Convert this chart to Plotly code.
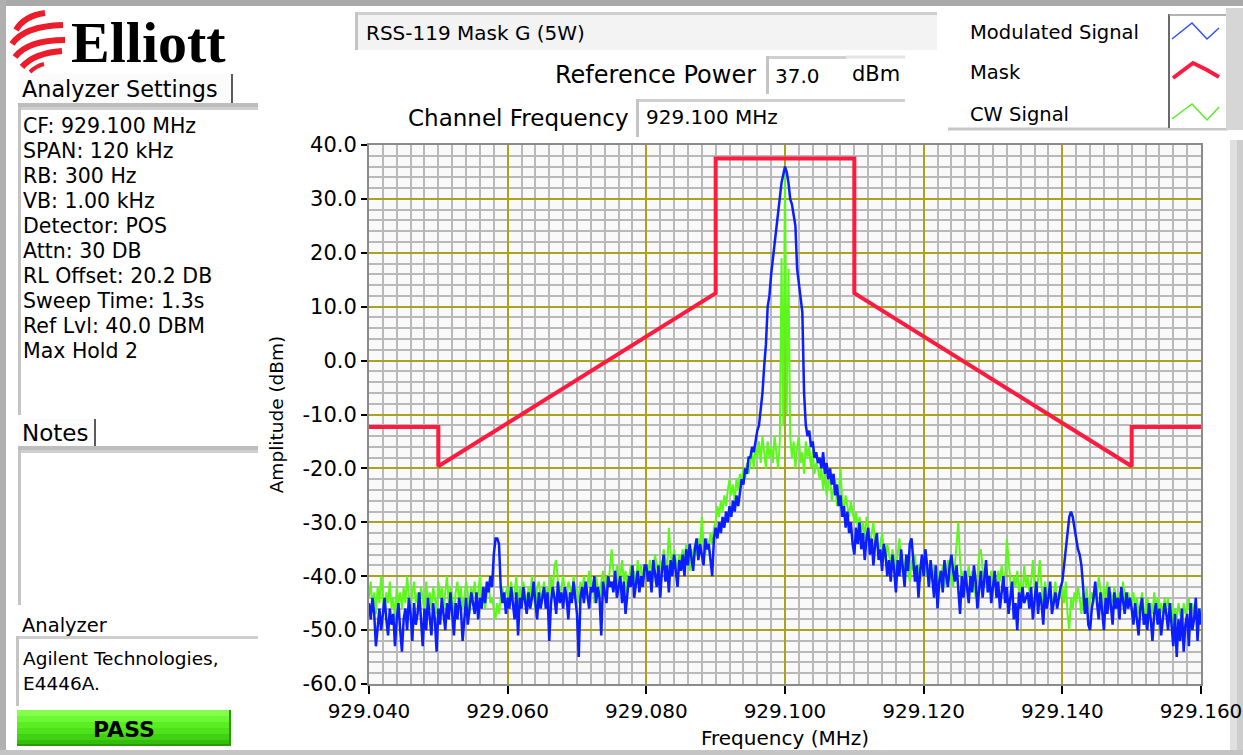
import numpy as np
import plotly.graph_objects as go

# ---------------- data ----------------
f_start, f_stop, n_pts = 929.040, 929.160, 481
freq_mhz = np.linspace(f_start, f_stop, n_pts)

modulated_dbm = [
    -45, -48, -44, -47, -53, -49, -46, -50, -47, -44, -48, -51, -46, -49, -47, -53, -48, -45, -50, -54,
    -48, -46, -50, -44, -47, -52, -45, -49, -47, -43, -48, -53, -46, -50, -44, -47, -51, -45, -48, -54,
    -46, -49, -44, -47, -50, -45, -48, -43, -47, -51, -45, -48, -44, -46, -52, -47, -44, -49, -46, -43,
    -45, -47, -43, -48, -44, -46, -42, -45, -41, -43, -40, -42, -36, -33, -33, -34, -42, -45, -43, -47,
    -44, -46, -42, -45, -48, -43, -51, -44, -46, -42, -45, -47, -43, -46, -44, -41, -45, -48, -43, -46,
    -44, -42, -46, -43, -52, -45, -42, -44, -47, -41, -45, -43, -46, -42, -44, -48, -43, -45, -41, -44,
    -47, -55, -44, -42, -45, -41, -44, -46, -42, -43, -40, -45, -42, -44, -51, -41, -43, -45, -40, -42,
    -41, -43, -39, -44, -42, -40, -45, -41, -47, -43, -40, -42, -38, -44, -41, -39, -43, -40, -42, -38,
    -38, -41, -39, -43, -37, -40, -42, -38, -44, -39, -36, -41, -38, -43, -37, -40, -36, -39, -42, -37,
    -39, -36, -40, -35, -38, -34, -37, -39, -35, -33, -37, -34, -36, -38, -33, -35, -34, -37, -40, -33,
    -31, -33, -30, -32, -29, -31, -28, -30, -27, -29, -26, -28, -25, -27, -24, -22, -23, -20, -21, -18,
    -18, -16, -17, -15, -13, -12, -9, -6, -1, 3, 10, 12, 16, 19, 22, 25, 27, 30, 33, 34.5,
    36, 35, 33, 30, 29, 27, 25, 17, 14, 11, 9, -6, -12, -14, -13, -16, -15, -18, -17, -19,
    -18, -20, -17, -21, -19, -22, -20, -23, -21, -25, -23, -27, -25, -29, -27, -31, -28, -32, -30, -34,
    -36, -31, -34, -30, -35, -32, -37, -33, -31, -36, -33, -38, -34, -32, -37, -35, -39, -34, -36, -40,
    -37, -41, -36, -39, -43, -37, -40, -35, -38, -42, -36, -39, -34, -33, -37, -41, -38, -44, -39, -36,
    -40, -35, -38, -42, -37, -40, -44, -38, -46, -41, -39, -43, -37, -40, -42, -38, -36, -39, -41, -38,
    -43, -47, -40, -44, -39, -42, -45, -40, -43, -38, -41, -46, -42, -39, -44, -41, -37, -43, -40, -45,
    -42, -39, -44, -41, -46, -43, -40, -45, -42, -47, -44, -41, -48, -45, -50, -43, -46, -42, -45, -44,
    -43, -46, -42, -48, -44, -41, -47, -43, -45, -49, -42, -46, -44, -41, -47, -45, -43, -46, -44, -42,
    -41, -38, -34, -31, -29, -28, -29, -31, -33, -35, -36, -38, -42, -47, -44, -49, -50, -46, -44, -41,
    -45, -48, -43, -46, -50, -44, -47, -42, -45, -49, -43, -46, -44, -48, -42, -45, -47, -43, -46, -44,
    -46, -49, -45, -48, -51, -46, -44, -49, -47, -50, -45, -48, -52, -47, -45, -49, -46, -51, -48, -45,
    -47, -50, -45, -49, -53, -47, -55, -48, -52, -46, -54, -49, -47, -53, -45, -50, -48, -44, -52, -46,
    -49,
]

cw_dbm = [
    -44, -41, -46, -43, -47, -42, -45, -40, -44, -47, -43, -45, -41, -46, -44, -48, -42, -45, -43, -46,
    -42, -45, -40, -44, -47, -43, -41, -45, -43, -46, -42, -44, -47, -41, -45, -43, -46, -42, -44, -47,
    -41, -44, -42, -46, -43, -40, -45, -42, -44, -47, -43, -41, -45, -42, -46, -44, -41, -43, -47, -42,
    -44, -41, -45, -43, -40, -44, -42, -46, -43, -41, -45, -44, -46, -48, -45, -47, -44, -42, -45, -43,
    -42, -45, -41, -44, -43, -40, -46, -42, -44, -41, -43, -45, -42, -44, -40, -43, -46, -42, -41, -44,
    -43, -41, -45, -42, -44, -40, -43, -38, -37, -41, -44, -42, -40, -43, -45, -41, -42, -44, -40, -43,
    -42, -45, -41, -43, -40, -44, -42, -39, -43, -41, -45, -40, -42, -44, -41, -39, -43, -40, -42, -38,
    -35, -39, -41, -38, -42, -40, -37, -41, -39, -43, -40, -38, -41, -39, -42, -37, -40, -38, -41, -39,
    -38, -40, -37, -39, -41, -36, -38, -40, -37, -39, -35, -37, -39, -31, -36, -38, -35, -37, -39, -36,
    -37, -35, -38, -34, -36, -39, -35, -37, -34, -36, -33, -35, -29, -34, -36, -33, -35, -32, -34, -31,
    -30, -27, -29, -26, -28, -25, -27, -24, -22, -25, -23, -26, -22, -24, -21, -23, -20, -22, -19, -21,
    -19, -17, -20, -16, -18, -15, -19, -14, -17, -20, -15, -18, -16, -19, -14, -17, -20, -15, 19, -12,
    35.5, -10, 17, -14, -18, -15, -20, -16, -14, -19, -17, -21, -15, -18, -16, -20, -17, -21, -19, -20,
    -22, -20, -24, -21, -25, -23, -21, -26, -24, -22, -27, -25, -20, -26, -28, -25, -27, -29, -26, -28,
    -30, -28, -31, -29, -32, -30, -33, -29, -31, -34, -32, -30, -35, -33, -36, -34, -32, -35, -37, -34,
    -36, -38, -35, -37, -39, -36, -33, -37, -40, -38, -36, -39, -41, -37, -39, -36, -40, -38, -41, -39,
    -37, -40, -38, -42, -39, -41, -38, -40, -43, -39, -41, -38, -42, -40, -37, -41, -39, -42, -38, -34,
    -30, -37, -41, -39, -43, -40, -38, -42, -39, -41, -44, -40, -36, -35, -39, -42, -40, -43, -41, -39,
    -42, -40, -43, -39, -41, -38, -42, -40, -33, -38, -41, -44, -40, -42, -39, -43, -41, -44, -38, -42,
    -40, -43, -41, -37, -42, -44, -40, -37, -42, -45, -41, -43, -44, -42, -46, -43, -41, -45, -43, -44,
    -42, -45, -41, -47, -50, -44, -46, -43, -45, -42, -44, -47, -43, -45, -42, -46, -44, -43, -45, -42,
    -44, -40, -43, -45, -42, -44, -41, -46, -43, -45, -42, -44, -46, -43, -45, -41, -44, -46, -43, -45,
    -45, -43, -46, -44, -47, -45, -43, -46, -48, -44, -46, -45, -47, -43, -46, -44, -48, -45, -47, -44,
    -46, -44, -47, -45, -50, -46, -48, -45, -47, -49, -45, -47, -46, -44, -48, -45, -47, -45, -49, -46,
    -47,
]

mask_freq = [929.040, 929.050, 929.050, 929.090, 929.090, 929.110, 929.110, 929.150, 929.150, 929.160]
mask_dbm = [-12.3, -12.3, -19.6, 12.5, 37.5, 37.5, 12.5, -19.6, -12.3, -12.3]

x_tick_vals = [929.040, 929.060, 929.080, 929.100, 929.120, 929.140, 929.160]
x_tick_text = ["929.040", "929.060", "929.080", "929.100", "929.120", "929.140", "929.160"]
y_tick_vals = [-60, -50, -40, -30, -20, -10, 0, 10, 20, 30, 40]
y_tick_text = ["-60.0", "-50.0", "-40.0", "-30.0", "-20.0", "-10.0", "0.0", "10.0", "20.0", "30.0", "40.0"]

settings_lines = ["CF: 929.100 MHz", "SPAN: 120 kHz", "RB: 300 Hz", "VB: 1.00 kHz", "Detector: POS",
                  "Attn: 30 DB", "RL Offset: 20.2 DB", "Sweep Time: 1.3s", "Ref Lvl: 40.0 DBM", "Max Hold 2"]
legend_names = ["Modulated Signal", "Mask", "CW Signal"]

# ---------------- geometry helpers (pixel -> paper) ----------------
W, H = 1243, 755
L, R, T, B = 369, 1201, 145, 684
FONT = "DejaVu Sans"


def px(x):
    return (x - L) / (R - L)


def py(y):
    return (B - y) / (B - T)


shapes = []
annotations = []


def rect(x0, y0, x1, y1, fill, lc=None, lw=0):
    shapes.append(dict(type="rect", xref="paper", yref="paper", x0=px(x0), x1=px(x1),
                       y0=py(y1), y1=py(y0), fillcolor=fill,
                       line=dict(color=lc or fill, width=lw), layer="below"))


def seg(x0, y0, x1, y1, color, width):
    shapes.append(dict(type="line", xref="paper", yref="paper", x0=px(x0), x1=px(x1),
                       y0=py(y0), y1=py(y1), line=dict(color=color, width=width), layer="below"))


def poly(points, color, width, curve=False):
    if curve:
        (a, b), (c, d), (e, f) = points
        p = f"M {px(a)},{py(b)} Q {px(c)},{py(d)} {px(e)},{py(f)}"
    else:
        p = "M " + " L ".join(f"{px(a)},{py(b)}" for a, b in points)
    shapes.append(dict(type="path", xref="paper", yref="paper", path=p,
                       line=dict(color=color, width=width), layer="above"))


def text(s, x, y, size, anchor="left", bold=False, family=FONT, color="black"):
    annotations.append(dict(text=f"<b>{s}</b>" if bold else s, x=px(x), y=py(y),
                            xref="paper", yref="paper", showarrow=False,
                            xanchor=anchor, yanchor="middle", borderpad=0,
                            font=dict(family=family, size=size, color=color)))


def sunken(x0, y0, x1, y1, fill):
    rect(x0, y0, x1, y1, fill)
    seg(x0, y0 + 1.5, x1, y0 + 1.5, "#cfcfcf", 3)
    seg(x0 + 1.5, y0, x0 + 1.5, y1, "#c4c4c4", 3)


# ---------------- outer frame ----------------
rect(0, 0, W, 6, "#a9a9a9")
rect(0, 0, 6, H, "#b0b0b0")
rect(1230, 140, W, H, "#e0e0e0")
rect(1237, 140, W, H, "#cdcdcd")
rect(0, 750, W, H, "#c4c4c4")

# ---------------- logo ----------------
RED_LOGO = "#ec1c2a"
poly([(16, 30), (24, 16), (45, 13)], RED_LOGO, 6, curve=True)
poly([(12, 44), (24, 26), (63, 25)], RED_LOGO, 6, curve=True)
poly([(15, 57), (28, 40), (65, 40)], RED_LOGO, 6, curve=True)
poly([(22, 67), (34, 53), (62, 51)], RED_LOGO, 6, curve=True)
poly([(30, 72), (36, 66), (44, 64)], RED_LOGO, 4, curve=True)
text("Elliott", 70, 42, 58, bold=True, family="Liberation Serif")

# ---------------- left panel ----------------
rect(18, 74, 233, 103, "#fbfbfb")
seg(232, 74, 232, 103, "#5a5a5a", 2)
seg(18, 105, 258, 105, "#bdbdbd", 4)
text("Analyzer Settings", 21, 89, 22.3)
sunken(18, 107, 258, 415, "#ffffff")
for i, line in enumerate(settings_lines):
    text(line, 22, 126 + 25.0 * i, 20.5)

rect(18, 419, 95, 446, "#fbfbfb")
seg(95, 419, 95, 446, "#5a5a5a", 2)
seg(18, 448, 258, 448, "#bdbdbd", 4)
text("Notes", 21, 433, 23)
sunken(18, 450, 258, 605, "#ffffff")

text("Analyzer", 21, 625, 19.5)
sunken(16, 636, 258, 706, "#ffffff")
text("Agilent Technologies,", 22, 658, 18.5)
text("E4446A.", 22, 683, 18.5)

# PASS indicator (stacked bands for a gradient look)
band_cols = ["#84ff4c", "#6cf835", "#5aee22", "#4ee21a", "#40d212", "#34bd0a"]
for i, c in enumerate(band_cols):
    rect(17, 710 + i * 6, 231, 716 + i * 6, c)
seg(17, 745, 231, 745, "#2a9a00", 2)
seg(230, 710, 230, 746, "#2a9a00", 2)
text("PASS", 124, 729, 22, anchor="center", bold=True)

# ---------------- top header ----------------
sunken(355, 12, 937, 50, "#f3f3f3")
text("RSS-119 Mask G (5W)", 365, 33, 20)
text("Reference Power", 757, 75, 24, anchor="right")
sunken(766, 56, 846, 94, "#ffffff")
seg(846, 57, 905, 57, "#e3e3e3", 3)
text("37.0", 774, 76, 20)
text("dBm", 851, 74, 21)
text("Channel Frequency", 630, 118, 23, anchor="right")
sunken(636, 99, 905, 137, "#ffffff")
text("929.100 MHz", 645, 117, 20)

# ---------------- legend panel ----------------
seg(948, 129, 1228, 129, "#c6c6c6", 3)
rect(1169, 14, 1226, 128, "#ffffff")
seg(1169, 14, 1169, 128, "#6a6a6a", 2)
seg(1169, 15, 1226, 15, "#9a9a9a", 1.5)
rect(1226, 8, W, 130, "#d6d6d6")
leg_y = [32, 73, 114]
for name, yy in zip(legend_names, leg_y):
    text(name, 969, yy, 19.5)
poly([(1172, 39), (1192, 23), (1207, 39), (1219, 28)], "#3050ff", 1.5)
poly([(1173, 78), (1193, 63), (1207, 70), (1219, 77)], "#ff1a40", 4)
poly([(1172, 119), (1192, 104), (1207, 120), (1219, 107)], "#55ee22", 1.5)

# ---------------- traces ----------------
fig = go.Figure()
fig.add_trace(go.Scatter(x=freq_mhz, y=cw_dbm, mode="lines", name=legend_names[2],
                         line=dict(color="#5cf81c", width=2)))
fig.add_trace(go.Scatter(x=freq_mhz, y=modulated_dbm, mode="lines", name=legend_names[0],
                         line=dict(color="#0a1eff", width=2.5)))
fig.add_trace(go.Scatter(x=mask_freq, y=mask_dbm, mode="lines", name=legend_names[1],
                         line=dict(color="#ff1a40", width=4)))

GRID_MINOR = "#b9b9b9"
GRID_MAJOR = "#aaa31e"

fig.update_layout(
    width=W, height=H, autosize=False,
    margin=dict(l=L, r=W - R, t=T, b=H - B, autoexpand=False),
    paper_bgcolor="#ffffff", plot_bgcolor="#f9f9f9",
    showlegend=False,
    font=dict(family=FONT, color="black"),
    shapes=shapes, annotations=annotations,
    xaxis=dict(
        range=[f_start, f_stop], tickmode="array", tickvals=x_tick_vals, ticktext=x_tick_text,
        automargin=False,
        showgrid=True, gridcolor=GRID_MAJOR, gridwidth=2, zeroline=False,
        ticks="outside", ticklen=8, tickwidth=1.5, tickcolor="black",
        tickfont=dict(size=20), showline=True, linecolor="#8a8a8a", linewidth=2, mirror=True,
        minor=dict(tickmode="linear", tick0=f_start, dtick=0.002, showgrid=True,
                   gridcolor=GRID_MINOR, gridwidth=2, ticks=""),
        title=dict(text="Frequency (MHz)", font=dict(size=20), standoff=9),
    ),
    yaxis=dict(
        range=[-60, 40], tickmode="array", tickvals=y_tick_vals, ticktext=y_tick_text,
        automargin=False,
        showgrid=True, gridcolor=GRID_MAJOR, gridwidth=2, zeroline=False,
        ticks="outside", ticklen=6, tickwidth=2, tickcolor="black",
        tickfont=dict(size=21), showline=True, linecolor="#8a8a8a", linewidth=2, mirror=True,
        minor=dict(tickmode="linear", tick0=-60, dtick=2, showgrid=True,
                   gridcolor=GRID_MINOR, gridwidth=2, ticks=""),
        title=dict(text="Amplitude (dBm)", font=dict(size=18.5), standoff=14),
    ),
)

fig.write_html(
    "out.html",
    config={"displayModeBar": False, "responsive": False},
    post_script=("document.body.style.margin='0px';"
                 "document.body.style.overflow='hidden';"
                 "document.documentElement.style.overflow='hidden';"),
)
